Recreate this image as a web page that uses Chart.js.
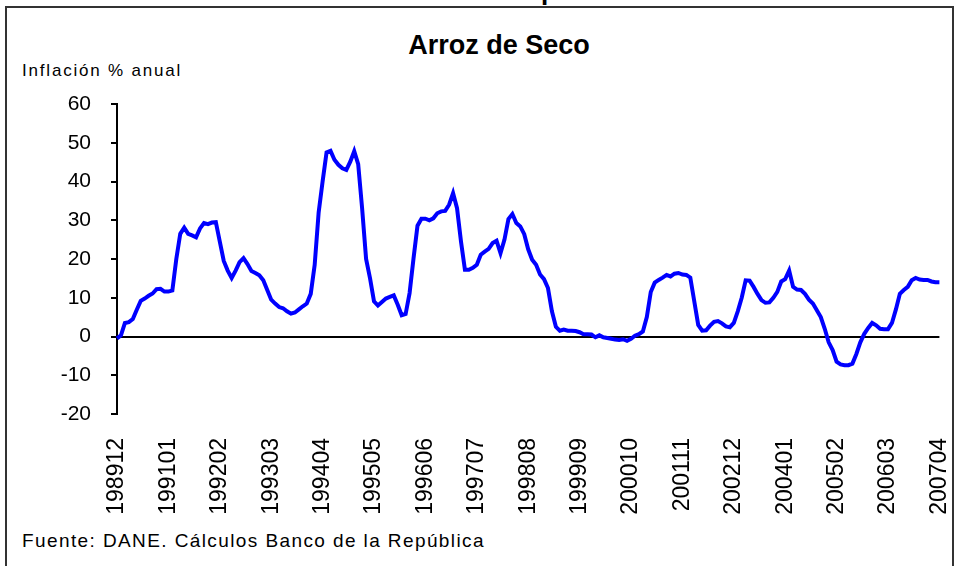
<!DOCTYPE html>
<html>
<head>
<meta charset="utf-8">
<script src="https://cdn.jsdelivr.net/npm/chart.js@4.4.1/dist/chart.umd.min.js"></script>
<style>
  html, body { margin: 0; padding: 0; background: #fff; }
  body { width: 958px; height: 566px; position: relative; overflow: hidden; font-family: 'Liberation Sans', Arial, sans-serif; }
  #frame { position: absolute; left: 5px; top: 6px; width: 945px; height: 600px; border: 2px solid #333; }
  #wrap { position: absolute; left: 0; top: 0; width: 983px; height: 566px; }
  .txt { position: absolute; color: #000; white-space: nowrap; }
  #top { left: 541px; top: -24px; font-size: 26px; font-weight: bold; }
  #title { left: 0; width: 998px; text-align: center; top: 30px; font-size: 27px; font-weight: bold; }
  #ylab { left: 22px; top: 61px; font-size: 17px; letter-spacing: 1.8px; }
  #src { left: 22px; top: 530px; font-size: 19px; letter-spacing: 1.4px; }
</style>
</head>
<body>
<div id="frame"></div>
<div class="txt" id="top">p</div>
<div class="txt" id="title">Arroz de Seco</div>
<div class="txt" id="ylab">Inflación % anual</div>
<div class="txt" id="src">Fuente: DANE. Cálculos Banco de la República</div>
<div id="wrap"><canvas id="arroz"></canvas></div>
<script>
// monthly, 198912 .. 200704
const startYear = 1989;
const startMonth = 12;
const monthCount = 209;

const tickLabels = ['198912', '199101', '199202', '199303', '199404', '199505', '199606',
  '199707', '199808', '199909', '200010', '200111', '200212', '200401', '200502', '200603', '200704'];

const inflacion = [
  -0.5, 0.3, 3.5, 3.7, 4.5, 6.9, 9.2, 9.8, 10.5, 11.1, 12.2, 12.3, 11.6, 11.6, 11.9, 20.0,
  26.5, 28.1, 26.5, 26.1, 25.6, 27.9, 29.3, 29.0, 29.4, 29.5, 24.5, 19.5, 17.0, 15.1, 17.0, 19.2,
  20.2, 18.7, 16.9, 16.4, 15.8, 14.5, 12.0, 9.5, 8.5, 7.6, 7.3, 6.5, 5.9, 6.2, 7.0, 7.8,
  8.5, 11.0, 18.5, 32.0, 40.0, 47.5, 47.9, 45.6, 44.3, 43.4, 43.0, 45.1, 47.8, 44.5, 33.0, 20.0,
  15.0, 9.1, 8.0, 8.9, 9.8, 10.2, 10.6, 8.2, 5.5, 5.8, 11.2, 20.2, 28.6, 30.4, 30.4, 30.0,
  30.5, 31.8, 32.3, 32.4, 34.0, 37.0, 33.1, 24.5, 17.2, 17.2, 17.7, 18.5, 21.1, 21.9, 22.6, 24.1,
  24.7, 21.5, 25.0, 30.3, 31.6, 29.3, 28.4, 26.4, 22.5, 19.8, 18.5, 16.0, 14.8, 12.5, 6.5, 2.5,
  1.5, 1.8, 1.5, 1.5, 1.4, 1.1, 0.6, 0.6, 0.5, -0.2, 0.3, -0.2, -0.4, -0.6, -0.8, -0.9,
  -0.7, -1.1, -0.6, 0.2, 0.6, 1.3, 5.0, 11.5, 13.9, 14.6, 15.2, 15.9, 15.5, 16.2, 16.4, 16.0,
  15.9, 15.2, 9.1, 3.0, 1.5, 1.6, 2.8, 3.8, 4.0, 3.4, 2.6, 2.4, 3.5, 6.5, 10.0, 14.5,
  14.4, 12.8, 11.0, 9.4, 8.7, 8.8, 10.0, 11.5, 14.2, 14.8, 17.0, 12.8, 12.1, 12.0, 11.0, 9.5,
  8.5, 6.8, 5.0, 2.0, -1.5, -3.5, -6.5, -7.2, -7.4, -7.4, -7.0, -4.5, -1.5, 0.7, 2.2, 3.5,
  2.9, 2.0, 1.9, 1.9, 3.5, 7.0, 11.0, 12.0, 12.8, 14.5, 15.1, 14.7, 14.6, 14.6, 14.2, 14.0,
  14.0
];

const months = [];
for (let i = 0; i < monthCount; i++) {
  const m = (startMonth - 1 + i) % 12 + 1;
  const y = startYear + Math.floor((startMonth - 1 + i) / 12);
  months.push(String(y) + String(m).padStart(2, '0'));
}

const font = "'Liberation Sans', Arial, sans-serif";

new Chart(document.getElementById('arroz'), {
  type: 'line',
  data: {
    labels: months,
    datasets: [{
      data: inflacion,
      borderColor: '#0000FF',
      borderWidth: 4,
      pointRadius: 0,
      tension: 0,
      fill: false
    }]
  },
  options: {
    responsive: true,
    maintainAspectRatio: false,
    animation: false,
    layout: { padding: { top: 104, right: 0, left: 0, bottom: 0 } },
    plugins: { legend: { display: false }, tooltip: { enabled: false } },
    scales: {
      x: {
        type: 'category',
        offset: false,
        grid: { display: false },
        border: { display: false },
        ticks: {
          autoSkip: false,
          minRotation: 90,
          maxRotation: 90,
          padding: 16,
          color: '#000',
          font: { family: font, size: 23 },
          callback: function (v, i) {
            const l = months[i];
            return tickLabels.includes(l) ? l : '';
          }
        },
        afterFit: function (scale) { scale.height = 152; }
      },
      y: {
        min: -20,
        max: 60,
        ticks: {
          stepSize: 10,
          padding: 20,
          color: '#000',
          font: { family: font, size: 21 }
        },
        grid: {
          color: ctx => ctx.tick && ctx.tick.value === 0 ? '#000' : 'rgba(0,0,0,0)',
          lineWidth: 2,
          tickColor: '#000',
          tickLength: 6,
          tickWidth: 2
        },
        border: { display: true, color: '#000', width: 2 },
        afterFit: function (scale) { scale.width = 117; }
      }
    }
  }
});
</script>
</body>
</html>
